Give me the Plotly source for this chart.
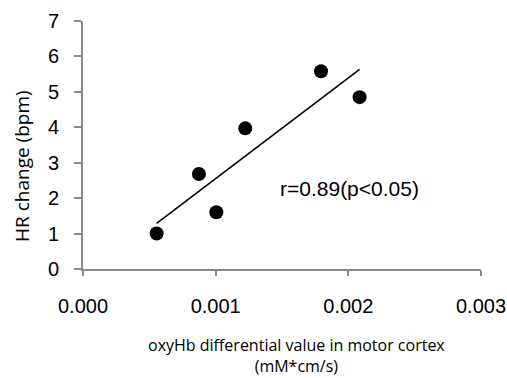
import numpy as np
import plotly.graph_objects as go

# Data
oxyhb = [0.000555, 0.000874, 0.001005, 0.001223, 0.001794, 0.002085]
hr_change = [1.0, 2.68, 1.60, 3.97, 5.58, 4.85]
x_ticks = [0.000, 0.001, 0.002, 0.003]
x_tick_labels = ["0.000", "0.001", "0.002", "0.003"]
y_ticks = [0, 1, 2, 3, 4, 5, 6, 7]

slope, intercept = np.polyfit(oxyhb, hr_change, 1)
fit_x = [min(oxyhb), max(oxyhb)]
fit_y = [slope * v + intercept for v in fit_x]

fig = go.Figure()
fig.add_trace(go.Scatter(x=fit_x, y=fit_y, mode="lines",
                         line=dict(color="black", width=1.6), hoverinfo="skip"))
fig.add_trace(go.Scatter(x=oxyhb, y=hr_change, mode="markers",
                         marker=dict(color="black", size=14)))

W, H = 507, 378
L, R, T, B = 83, 26, 21, 109
pw = W - L - R
ph = H - T - B
plot_bottom = H - B

axis_color = "#8a8a8a"
fig.update_layout(
    width=W, height=H,
    margin=dict(l=L, r=R, t=T, b=B, autoexpand=False),
    paper_bgcolor="white", plot_bgcolor="white",
    showlegend=False,
    font=dict(family="Liberation Sans, Arial, sans-serif", color="black"),
    xaxis=dict(range=[0, 0.003], tickvals=x_ticks, ticktext=x_tick_labels,
               showgrid=False, zeroline=False, showline=True, automargin=False,
               linecolor=axis_color, linewidth=2,
               ticks="outside", ticklen=5, tickwidth=2, tickcolor=axis_color,
               tickfont=dict(size=20), ticklabelstandoff=13),
    yaxis=dict(range=[0, 7], tickvals=y_ticks,
               showgrid=False, zeroline=False, showline=True, automargin=False,
               linecolor=axis_color, linewidth=2,
               ticks="outside", ticklen=7, tickwidth=2, tickcolor=axis_color,
               tickfont=dict(size=20), ticklabelstandoff=11),
)

fig.add_annotation(x=0.00147, y=2.28, xref="x", yref="y", xanchor="left", yanchor="middle",
                   text="r=0.89(p<0.05)", showarrow=False,
                   font=dict(size=21, family="Liberation Sans, Arial, sans-serif"))
fig.add_annotation(xref="paper", yref="paper",
                   x=(296 - L) / pw, y=-(355 - plot_bottom) / ph,
                   xanchor="center", yanchor="middle", showarrow=False,
                   text="oxyHb differential value in motor cortex<br>(mM*cm/s)",
                   font=dict(size=16, family="Open Sans, sans-serif"))
fig.add_annotation(xref="paper", yref="paper",
                   x=(22 - L) / pw, y=(plot_bottom - 166) / ph,
                   xanchor="center", yanchor="middle", showarrow=False, textangle=-90,
                   text="HR change (bpm)",
                   font=dict(size=19, family="Open Sans, sans-serif"))

fig.write_html("out.html", config={"displayModeBar": False},
               post_script="document.body.style.margin='0';document.body.style.overflow='hidden';")
